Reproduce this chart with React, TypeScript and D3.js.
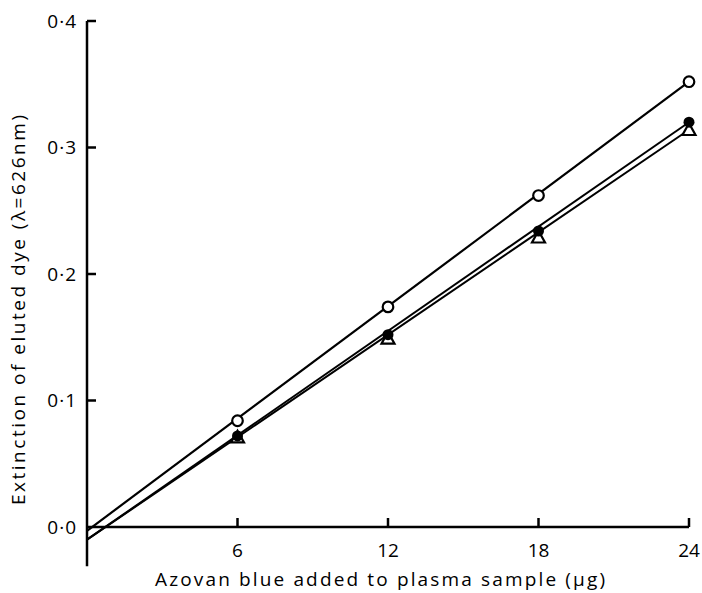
import React from "react";
import * as d3 from "d3";

const doses = [6, 12, 18, 24];
const openCircle = [0.084, 0.174, 0.262, 0.352];
const filledCircle = [0.072, 0.152, 0.234, 0.320];
const triangle = [0.071, 0.149, 0.229, 0.314];
// fitted lines: [x0, y0, x1, y1]
const lineOpen = [0, -0.003, 24, 0.352];
const lineFilled = [0, -0.01, 24, 0.32];
const lineTriangle = [0, -0.01, 24, 0.314];
const yTicks = [0, 0.1, 0.2, 0.3, 0.4];
const yTickLabels = ["0·0", "0·1", "0·2", "0·3", "0·4"];
const xTicks = [6, 12, 18, 24];
const xTitle = "Azovan blue added to plasma sample (μg)";
const yTitle = "Extinction of eluted dye (λ=626nm)";

export default function App() {
  const W = 702, H = 593;
  const x = d3.scaleLinear().domain([0, 24]).range([87, 689]);
  const y = d3.scaleLinear().domain([0, 0.4]).range([527, 21]);
  const font = "'Open Sans', Lato, sans-serif";
  const seg = (l: number[]) => (
    d3.line()([[x(l[0]), y(l[1])], [x(l[2]), y(l[3])]]) as string
  );
  const tri = (cx: number, cy: number) => {
    const s = 6.5;
    return `M${cx},${cy - s}L${cx + s},${cy + s * 0.8}L${cx - s},${cy + s * 0.8}Z`;
  };
  return (
    <svg width={W} height={H} style={{ position: "absolute", left: 0, top: 0, background: "#fff" }}>
      <rect width={W} height={H} fill="#fff" />
      {/* axes */}
      <line x1={x(0)} x2={x(0)} y1={y(0.4)} y2={y(-0.031)} stroke="#000" strokeWidth={2.5} />
      <line x1={x(0)} x2={x(24)} y1={y(0)} y2={y(0)} stroke="#000" strokeWidth={2.5} />
      {yTicks.map((t, i) => (
        <g key={t}>
          {t > 0 && <line x1={x(0)} x2={x(0) + 9} y1={y(t)} y2={y(t)} stroke="#000" strokeWidth={2.5} />}
          <text x={77} y={y(t)} dy="0.36em" textAnchor="end" fontFamily={font} fontSize={19} letterSpacing={1} fill="#000">{yTickLabels[i]}</text>
        </g>
      ))}
      {xTicks.map((t) => (
        <g key={t}>
          <line x1={x(t)} x2={x(t)} y1={y(0)} y2={y(0) - 9} stroke="#000" strokeWidth={2.5} />
          <text x={x(t)} y={y(0) + 30} textAnchor="middle" fontFamily={font} fontSize={19} fill="#000">{t}</text>
        </g>
      ))}
      <text x={155} y={586} textLength={450} lengthAdjust="spacing" fontFamily={font} fontSize={19} fill="#000">{xTitle}</text>
      <text transform={`translate(25,505) rotate(-90)`} textLength={390} lengthAdjust="spacing" fontFamily={font} fontSize={19} fill="#000">{yTitle}</text>
      {/* lines */}
      <path d={seg(lineOpen)} stroke="#000" strokeWidth={2.2} fill="none" />
      <path d={seg(lineFilled)} stroke="#000" strokeWidth={2} fill="none" />
      <path d={seg(lineTriangle)} stroke="#000" strokeWidth={2} fill="none" />
      {/* markers */}
      {doses.map((d, i) => (
        <g key={d}>
          <path d={tri(x(d), y(triangle[i]))} fill="#fff" stroke="#000" strokeWidth={2.2} />
          <circle cx={x(d)} cy={y(filledCircle[i])} r={5.5} fill="#000" />
          <circle cx={x(d)} cy={y(openCircle[i])} r={5.3} fill="#fff" stroke="#000" strokeWidth={2.2} />
        </g>
      ))}
    </svg>
  );
}
